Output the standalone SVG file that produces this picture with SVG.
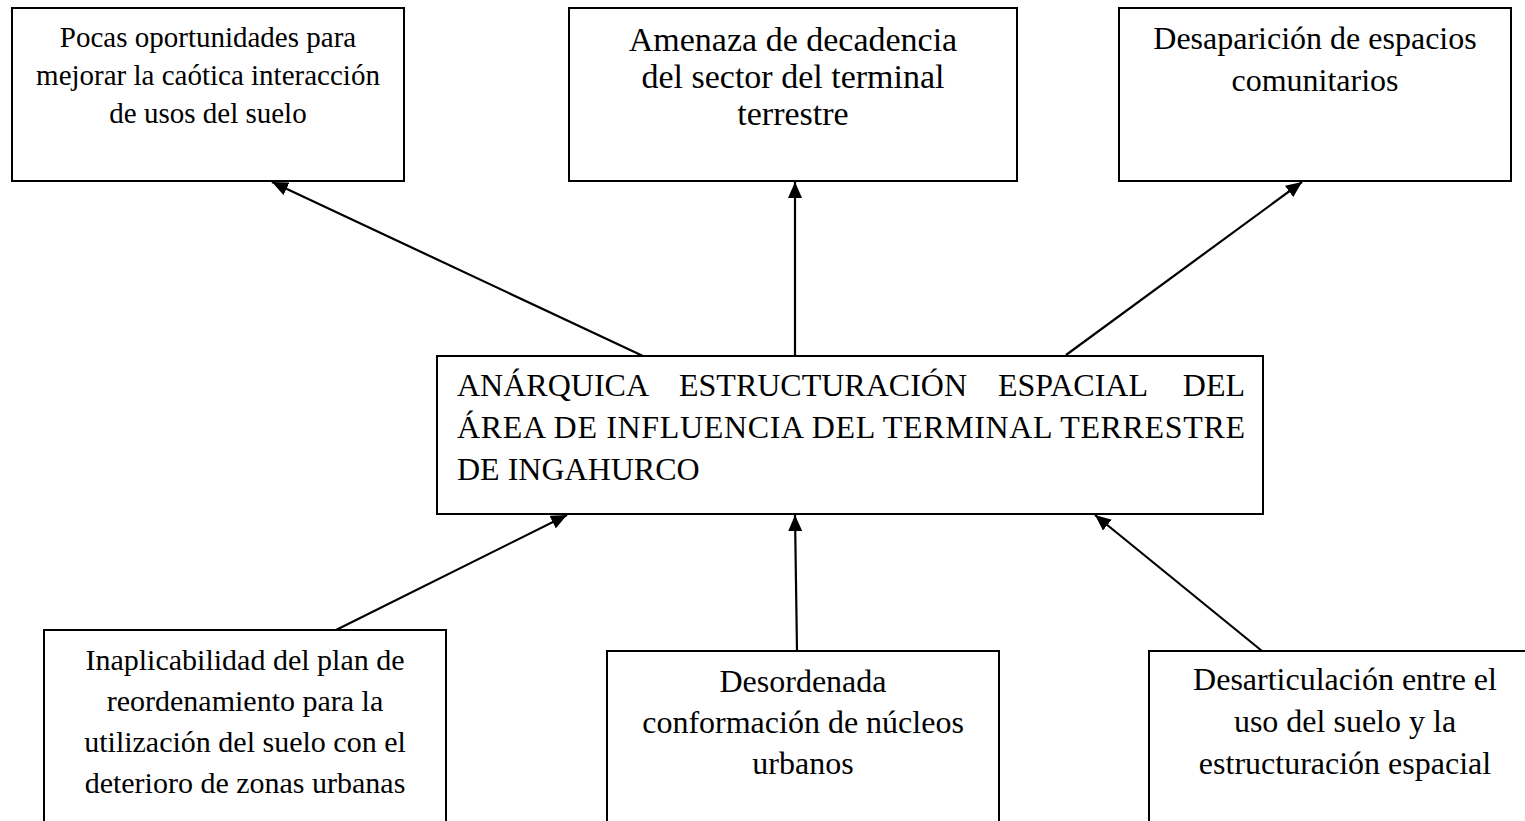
<svg xmlns="http://www.w3.org/2000/svg" width="1525" height="821" viewBox="0 0 1525 821">
<style>
.box{fill:#fff;stroke:#000;stroke-width:2}
.t{font-family:"Liberation Serif","Times New Roman",serif;fill:#000;text-anchor:middle}
.c{font-family:"Liberation Serif","Times New Roman",serif;fill:#000;font-size:32px}
.conn line{stroke:#000;stroke-width:2.2;marker-end:url(#ah)}
</style>
<defs>
<marker id="ah" markerUnits="userSpaceOnUse" markerWidth="17" markerHeight="14" refX="16" refY="7" orient="auto">
<path d="M0,0 L16,7 L0,14 Z" fill="#000"/>
</marker>
</defs>
<rect width="1525" height="821" fill="#fff"/>
<g class="conn" id="connectors">
<line x1="643" y1="356" x2="272" y2="182"/>
<line x1="795" y1="355" x2="795" y2="182"/>
<line x1="1066" y1="355" x2="1302" y2="182"/>
<line x1="336" y1="630" x2="567" y2="515"/>
<line x1="797" y1="651" x2="795" y2="515"/>
<line x1="1262" y1="651" x2="1095" y2="515"/>
</g>
<g id="n1">
<rect class="box" x="12" y="8" width="392" height="173"/>
<text class="t" font-size="29" x="208"><tspan x="208" y="47">Pocas oportunidades para</tspan><tspan x="208" y="85">mejorar la caótica interacción</tspan><tspan x="208" y="123">de usos del suelo</tspan></text>
</g>
<g id="n2">
<rect class="box" x="569" y="8" width="448" height="173"/>
<text class="t" font-size="34" x="793"><tspan x="793" y="51">Amenaza de decadencia</tspan><tspan x="793" y="88">del sector del terminal</tspan><tspan x="793" y="125">terrestre</tspan></text>
</g>
<g id="n3">
<rect class="box" x="1119" y="8" width="392" height="173"/>
<text class="t" font-size="32" x="1315"><tspan x="1315" y="49">Desaparición de espacios</tspan><tspan x="1315" y="91">comunitarios</tspan></text>
</g>
<g id="center">
<rect class="box" x="437" y="356" width="826" height="158"/>
<text class="c"><tspan x="457" y="396">ANÁRQUICA</tspan><tspan x="679" y="396">ESTRUCTURACIÓN</tspan><tspan x="998" y="396">ESPACIAL</tspan><tspan x="1245" y="396" text-anchor="end">DEL</tspan><tspan x="457" y="438" textLength="788" lengthAdjust="spacing">ÁREA DE INFLUENCIA DEL TERMINAL TERRESTRE</tspan><tspan x="457" y="480">DE INGAHURCO</tspan></text>
</g>
<g id="b1">
<rect class="box" x="44" y="630" width="402" height="200"/>
<text class="t" font-size="30" x="245"><tspan x="245" y="670">Inaplicabilidad del plan de</tspan><tspan x="245" y="711">reordenamiento para la</tspan><tspan x="245" y="752">utilización del suelo con el</tspan><tspan x="245" y="793">deterioro de zonas urbanas</tspan></text>
</g>
<g id="b2">
<rect class="box" x="607" y="651" width="392" height="180"/>
<text class="t" font-size="32" x="803"><tspan x="803" y="692">Desordenada</tspan><tspan x="803" y="733">conformación de núcleos</tspan><tspan x="803" y="774">urbanos</tspan></text>
</g>
<g id="b3">
<rect class="box" x="1149" y="651" width="400" height="180"/>
<text class="t" font-size="32" x="1345"><tspan x="1345" y="690">Desarticulación entre el</tspan><tspan x="1345" y="732">uso del suelo y la</tspan><tspan x="1345" y="774">estructuración espacial</tspan></text>
</g>
</svg>
